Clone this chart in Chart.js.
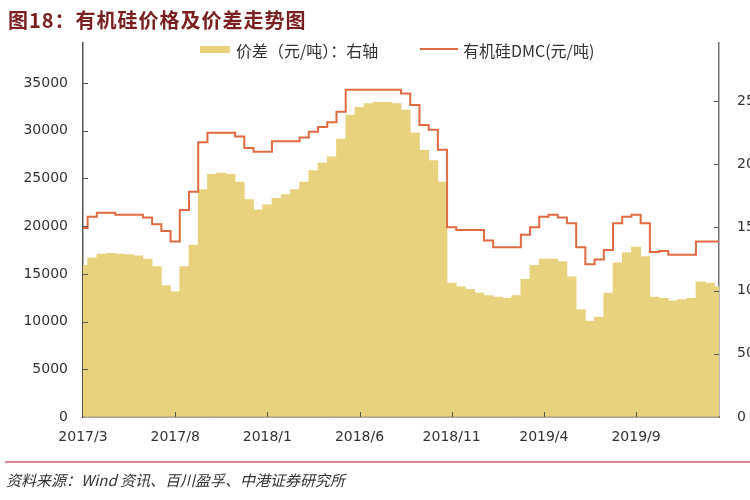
<!DOCTYPE html>
<html>
<head>
<meta charset="utf-8">
<script src="https://cdn.jsdelivr.net/npm/chart.js@4/dist/chart.umd.min.js"></script>
<style>
  html, body { margin: 0; padding: 0; background: #fff; overflow: hidden; }
  #wrap { position: relative; width: 750px; height: 500px; overflow: hidden; }
  #chart { position: absolute; left: 0; top: 0; }
  .title { position: absolute; left: 8px; top: 5px; font: bold 20px "Noto Sans CJK SC"; letter-spacing: 1px; color: #7a2020; }
  .legend { position: absolute; top: 38px; font: 16px "Noto Sans CJK SC"; color: #333; white-space: nowrap; }
  .swatch-bar { position: absolute; left: 200px; top: 46px; width: 30px; height: 7px; background: #e9d27d; }
  .swatch-line { position: absolute; left: 420px; top: 48px; width: 38px; height: 2px; background: #e06a42; }
  .rule { position: absolute; left: 5px; top: 461px; width: 745px; height: 2px; background: #d98a90; }
  .source { position: absolute; left: 6px; top: 469px; font: italic 15px "Noto Sans CJK SC"; color: #333; white-space: nowrap; }
</style>
</head>
<body>
<div id="wrap">
  <canvas id="chart" width="790" height="500"></canvas>
  <div class="title">图18：有机硅价格及价差走势图</div>
  <div class="swatch-bar"></div>
  <div class="legend" style="left:236px">价差（元/吨）：右轴</div>
  <div class="swatch-line"></div>
  <div class="legend" style="left:463px">有机硅DMC(元/吨)</div>
  <div class="rule"></div>
  <div class="source">资料来源：Wind 资讯、百川盈孚、中港证券研究所</div>
</div>
<script>
// 半月数据点
const dates = [
  "2017/3/1","2017/3/16","2017/4/1","2017/4/16","2017/5/1","2017/5/16","2017/6/1","2017/6/16",
  "2017/7/1","2017/7/16","2017/8/1","2017/8/16","2017/9/1","2017/9/16","2017/10/1","2017/10/16",
  "2017/11/1","2017/11/16","2017/12/1","2017/12/16","2018/1/1","2018/1/16","2018/2/1","2018/2/16",
  "2018/3/1","2018/3/16","2018/4/1","2018/4/16","2018/5/1","2018/5/16","2018/6/1","2018/6/16",
  "2018/7/1","2018/7/16","2018/8/1","2018/8/16","2018/9/1","2018/9/16","2018/10/1","2018/10/16",
  "2018/11/1","2018/11/16","2018/12/1","2018/12/16","2019/1/1","2019/1/16","2019/2/1","2019/2/16",
  "2019/3/1","2019/3/16","2019/4/1","2019/4/16","2019/5/1","2019/5/16","2019/6/1","2019/6/16",
  "2019/7/1","2019/7/16","2019/8/1","2019/8/16","2019/9/1","2019/9/16","2019/10/1","2019/10/16",
  "2019/11/1","2019/11/16","2019/12/1","2019/12/16","2020/1/1","2020/1/16"
];

// 有机硅DMC价格（元/吨），左轴
const dmcPrice = [
  19800, 21000, 21400, 21400, 21200, 21200, 21200, 20900, 20200, 19500,
  18400, 21700, 23600, 28800, 29800, 29800, 29800, 29400, 28200, 27800,
  27800, 28900, 28900, 28900, 29300, 29900, 30400, 30900, 32000, 34300,
  34300, 34300, 34300, 34300, 34300, 33900, 32700, 30600, 30100, 28000,
  19900, 19600, 19600, 19600, 18500, 17800, 17800, 17800, 19100, 19900,
  21000, 21200, 20900, 20300, 17800, 16000, 16500, 17500, 20300, 21000,
  21200, 20300, 17300, 17400, 17000, 17000, 17000, 18400, 18400, 18400
];

// 价差（元/吨），右轴
const spread = [
  12000, 12600, 12900, 12950, 12900, 12850, 12750, 12500, 11900, 10400,
  9900, 11900, 13600, 18000, 19200, 19300, 19200, 18600, 17200, 16400,
  16800, 17300, 17600, 18000, 18600, 19500, 20100, 20600, 22000, 23900,
  24500, 24800, 24900, 24900, 24800, 24300, 22500, 21100, 20300, 18600,
  10600, 10300, 10100, 9800, 9600, 9500, 9400, 9600, 10900, 12000,
  12500, 12500, 12300, 11100, 8500, 7600, 7900, 9800, 12200, 13000,
  13450, 12700, 9500, 9400, 9200, 9300, 9400, 10700, 10600, 10300
];

const tickLabels = ["2017/3", "2017/8", "2018/1", "2018/6", "2018/11", "2019/4", "2019/9"];
const leftTicks = [0, 5000, 10000, 15000, 20000, 25000, 30000, 35000];
const rightTicks = [0, 5000, 10000, 15000, 20000, 25000];

function monthOf(d) {
  const p = d.split("/");
  return p[2] === "1" ? p[0] + "/" + p[1] : null;
}

// 刻度线朝内
const innerTicks = {
  id: "innerTicks",
  afterDatasetsDraw(chart) {
    const { ctx, chartArea: a, scales } = chart;
    ctx.save();
    ctx.strokeStyle = "#555";
    ctx.lineWidth = 1;
    ctx.beginPath();
    leftTicks.forEach(v => {
      if (v === 0) return;
      const py = Math.round(scales.y.getPixelForValue(v)) + 0.5;
      ctx.moveTo(a.left, py); ctx.lineTo(a.left + 5, py);
    });
    rightTicks.forEach(v => {
      if (v === 0) return;
      const py = Math.round(scales.y1.getPixelForValue(v)) + 0.5;
      ctx.moveTo(a.right, py); ctx.lineTo(a.right - 5, py);
    });
    dates.forEach((d, i) => {
      const m = monthOf(d);
      if (!m || !tickLabels.includes(m) || i === 0) return;
      const px = Math.round(scales.x.getPixelForValue(i)) + 0.5;
      ctx.moveTo(px, a.bottom); ctx.lineTo(px, a.bottom - 5);
    });
    ctx.stroke();
    ctx.restore();
  }
};

const tickFont = { family: "DejaVu Sans", size: 14 };

new Chart(document.getElementById("chart"), {
  data: {
    labels: dates,
    datasets: [
      {
        type: "line",
        label: "有机硅DMC(元/吨)",
        data: dmcPrice,
        yAxisID: "y",
        borderColor: "#e06a42",
        borderWidth: 2,
        pointRadius: 0,
        stepped: "middle",
        order: 0
      },
      {
        type: "bar",
        label: "价差（元/吨）：右轴",
        data: spread,
        yAxisID: "y1",
        backgroundColor: "#e9d27d",
        borderWidth: 0,
        barPercentage: 1,
        categoryPercentage: 1,
        order: 1
      }
    ]
  },
  options: {
    responsive: false,
    animation: false,
    devicePixelRatio: 1,
    layout: { padding: { top: 43, left: 0, right: 0, bottom: 0 } },
    plugins: { legend: { display: false }, tooltip: { enabled: false } },
    scales: {
      x: {
        offset: false,
        grid: { display: true, drawOnChartArea: false, drawTicks: false },
        border: { color: "#555", width: 1.5 },
        ticks: {
          autoSkip: false, maxRotation: 0, padding: 12, color: "#333", font: tickFont,
          callback: (v, i) => {
            const m = monthOf(dates[i]);
            return m && tickLabels.includes(m) ? m : null;
          }
        },
        afterFit: s => { s.height = 83; }
      },
      y: {
        position: "left",
        min: 0, max: 39200,
        grid: { display: true, drawOnChartArea: false, drawTicks: false },
        border: { color: "#555", width: 1.5 },
        ticks: { padding: 15, color: "#333", font: tickFont, callback: v => String(v) },
        afterBuildTicks: s => { s.ticks = leftTicks.map(v => ({ value: v })); },
        afterFit: s => { s.width = 83; }
      },
      y1: {
        position: "right",
        min: 0, max: 29600,
        grid: { display: true, drawOnChartArea: false, drawTicks: false },
        border: { color: "#777", width: 1.5 },
        ticks: { padding: 18, color: "#333", font: tickFont, callback: v => String(v) },
        afterBuildTicks: s => { s.ticks = rightTicks.map(v => ({ value: v })); },
        afterFit: s => { s.width = 71; }
      }
    }
  },
  plugins: [innerTicks]
});
</script>
</body>
</html>
